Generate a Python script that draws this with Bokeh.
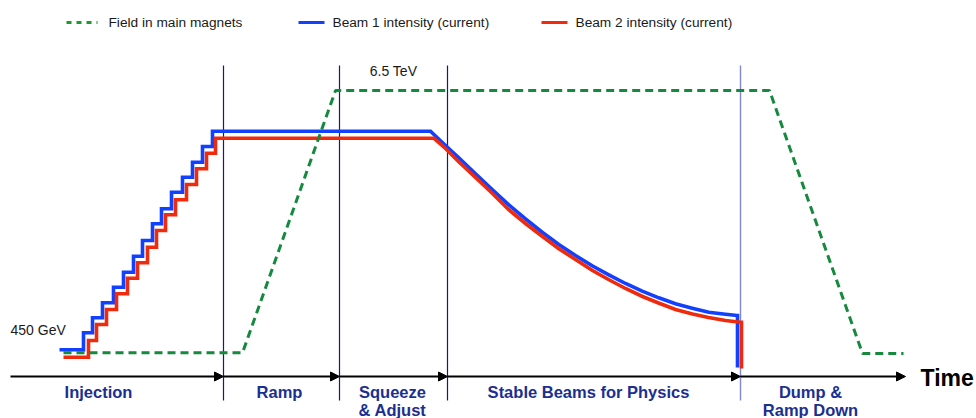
from bokeh.plotting import figure
from bokeh.models import Range1d, ColumnDataSource, Arrow, NormalHead
from bokeh.core.properties import value
from bokeh.embed import file_html
from bokeh.resources import INLINE

FONT = value("Liberation Sans")

# ---- data (time in arbitrary units, level above the time axis in arbitrary units) ----
phase_bounds = [10, 223, 339, 447, 740, 905]          # axis start, phase boundaries, axis end
phase_labels = ["Injection", "Ramp", "Squeeze\n& Adjust", "Stable Beams for Physics", "Dump &\nRamp Down"]
phase_label_x = [98, 279, 392, 588, 810]

field_t = [63, 242, 335, 769, 862, 903]
field_level = [23.7, 23.7, 286, 286, 23, 23]

b1_start = 59
b1_step_t = [83, 92, 102, 113, 123, 133, 142, 152, 161, 171, 182, 192, 202, 212]
b1_levels = [26.7, 43.7, 58.7, 73.7, 89.3, 104.3, 120.3, 136, 152.7, 167.7, 184.3, 199.3, 214.3, 230, 245.3]
b1_decay_t = [430, 445, 458.3, 475, 491.7, 508.3, 525, 541.7, 558.3, 575, 591.7, 608.3, 625, 641.7,
              658.3, 675, 691.7, 708.3, 725, 736.7]
b1_decay_level = [245.3, 231, 218.7, 202.7, 187, 171.7, 157.7, 144.3, 132, 121, 110.7, 101.7, 93, 85.3,
                  78.7, 72.7, 68.3, 64.3, 62.3, 61]
b1_dump_t, b1_dump_level = 737, 9

b2_start = 63
b2_step_t = [88, 96, 106, 116, 127, 137, 147, 156, 165, 175, 186, 196, 206, 215]
b2_levels = [19.3, 36, 52, 67, 82.7, 98.3, 113.7, 129.3, 146, 161.7, 176.7, 192, 207.7, 223.3, 238.3]
b2_decay_t = [433.3, 445, 458, 475, 492, 508, 525, 542, 558, 575, 592, 608, 625, 642, 658, 675, 692, 708, 725, 740]
b2_decay_level = [238.3, 228, 215, 199, 183, 167, 153, 140, 128, 117, 106, 97, 88, 80, 73.5, 67, 62.5, 59, 56, 54.3]
b2_dump_t, b2_dump_level = 741, 8

legend_labels = ["Field in main magnets", "Beam 1 intensity (current)", "Beam 2 intensity (current)"]

GREEN = "#15893e"
BLUE = "#1240ff"
RED = "#f02a0c"
NAVY = "#0d1c8c"
LABEL = "#1c2f8f"


def beam_path(x0, step_t, levels, decay_t, decay_level, dump_t, dump_level):
    xs, ys = [x0], [levels[0]]
    for t, prev, lv in zip(step_t, levels[:-1], levels[1:]):
        xs += [t, t]
        ys += [prev, lv]
    xs += decay_t
    ys += decay_level
    xs += [dump_t, dump_t]
    ys += [decay_level[-1], dump_level]
    return xs, ys


p = figure(width=976, height=418, output_backend="svg", toolbar_location=None,
           x_range=Range1d(0, 976), y_range=Range1d(-42, 376),
           min_border=0, min_border_left=0, min_border_right=0, min_border_top=0, min_border_bottom=0)
p.axis.visible = False
p.grid.visible = False
p.outline_line_color = None
p.background_fill_color = "white"
p.border_fill_color = "white"

# phase boundary lines
inner = phase_bounds[1:-1]
p.segment(x0=inner[:-1], y0=[311] * (len(inner) - 1), x1=inner[:-1], y1=[-24] * (len(inner) - 1),
          line_color=NAVY, line_width=1.2)
p.segment(x0=[inner[-1]], y0=[311], x1=[inner[-1]], y1=[-24], line_color="#7f89cc", line_width=1.4)

# beams
x1, y1 = beam_path(b1_start, b1_step_t, b1_levels, b1_decay_t, b1_decay_level, b1_dump_t, b1_dump_level)
x2, y2 = beam_path(b2_start, b2_step_t, b2_levels, b2_decay_t, b2_decay_level, b2_dump_t, b2_dump_level)
p.line(x1, y1, line_color=BLUE, line_width=3.6, line_join="miter")
p.line(x2, y2, line_color=RED, line_width=3.6, line_join="miter")

# field
p.line(field_t, field_level, line_color=GREEN, line_width=3, line_dash="8 5")

# time axis with arrows
arrow_src = ColumnDataSource(dict(xs=phase_bounds[:-1], xe=phase_bounds[1:],
                                  ys=[0] * (len(phase_bounds) - 1), ye=[0] * (len(phase_bounds) - 1)))
p.add_layout(Arrow(end=NormalHead(size=9, fill_color="black", line_color="black", line_width=1),
                   x_start="xs", y_start="ys", x_end="xe", y_end="ye", source=arrow_src,
                   line_color="black", line_width=2))

# phase labels
lx, ly, lt = [], [], []
for cx, name in zip(phase_label_x, phase_labels):
    for i, line in enumerate(name.split("\n")):
        lx.append(cx)
        ly.append(-15 - 18 * i)
        lt.append(line)
p.text(x=lx, y=ly, text=lt, text_font=FONT, text_font_size="16.5px", text_font_style="bold",
       text_color=LABEL, text_align="center", text_baseline="middle")

p.text(x=[920], y=[-1], text=["Time"], text_font=FONT, text_font_size="23px", text_font_style="bold",
       text_color="black", text_align="left", text_baseline="middle")

p.text(x=[10], y=[47], text=["450 GeV"], text_font=FONT, text_font_size="14px",
       text_color="#1a1a1a", text_align="left", text_baseline="middle")
p.text(x=[393], y=[306], text=["6.5 TeV"], text_font=FONT, text_font_size="14px",
       text_color="#1a1a1a", text_align="center", text_baseline="middle")

# legend (manual, top row)
LEG_Y = 354
p.segment(x0=[66], y0=[LEG_Y], x1=[97], y1=[LEG_Y], line_color="#1e9a2c", line_width=3, line_dash="5 5")
p.segment(x0=[298], y0=[LEG_Y], x1=[324], y1=[LEG_Y], line_color=BLUE, line_width=3.2)
p.segment(x0=[541], y0=[LEG_Y], x1=[567], y1=[LEG_Y], line_color=RED, line_width=3.2)
p.text(x=[108, 332, 575], y=[LEG_Y] * 3, text=legend_labels, text_font=FONT, text_font_size="13.7px",
       text_color="#1a1a1a", text_align="left", text_baseline="middle")

open("out.html", "w").write(file_html(p, INLINE))
